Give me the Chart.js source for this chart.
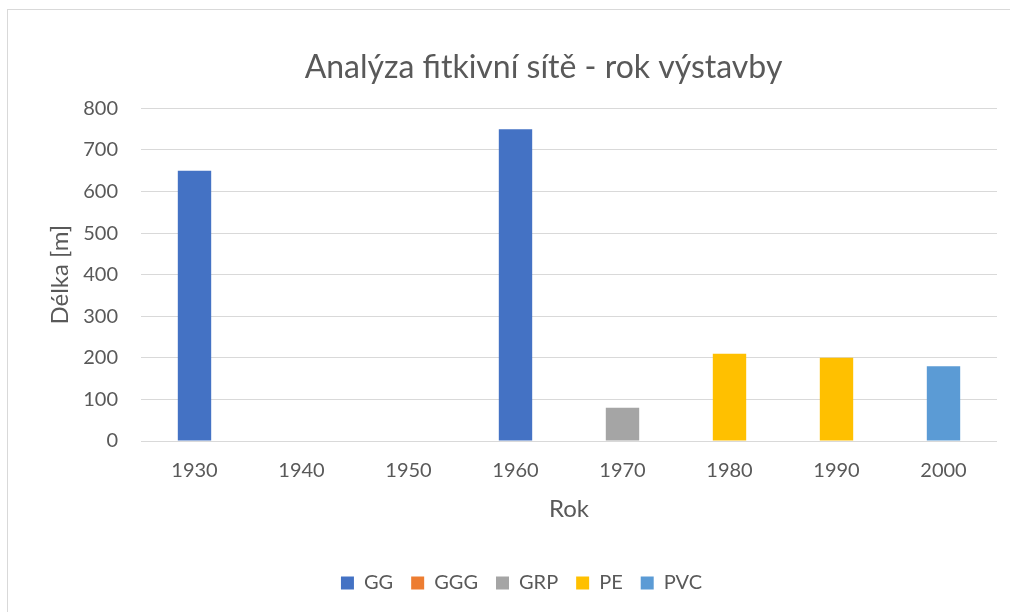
<!DOCTYPE html>
<html>
<head>
<meta charset="utf-8">
<script src="https://cdn.jsdelivr.net/npm/chart.js@4"></script>
<style>
  html, body { margin: 0; padding: 0; background: #fff; }
  #wrap { position: relative; width: 1010px; height: 612px; overflow: hidden; }
  #frame { position: absolute; left: 7px; top: 9px; width: 1100px; height: 700px;
           border: 1.5px solid #d9d9d9; box-sizing: border-box; }
  #myChart { position: absolute; left: 0; top: 0; }
</style>
</head>
<body>
<div id="wrap">
  <div id="frame"></div>
  <canvas id="myChart" width="1010" height="612"></canvas>
</div>
<script>
// years on the x axis
var years = ["1930", "1940", "1950", "1960", "1970", "1980", "1990", "2000"];

// pipe length [m] per material, null where nothing was built
var gg  = [650, null, null, 750, null, null, null, null];
var ggg = [null, null, null, null, null, null, null, null];
var grp = [null, null, null, null, 80, null, null, null];
var pe  = [null, null, null, null, null, 210, 200, null];
var pvc = [null, null, null, null, null, null, null, 180];

var yTicks = [0, 100, 200, 300, 400, 500, 600, 700, 800];

var grey = '#595959';
var fontName = 'Lato';

// Excel centres the title a bit further right than Chart.js does
var shiftTitle = {
  id: 'shiftTitle',
  afterLayout: function (chart) {
    chart.titleBlock.left += 22;
    chart.titleBlock.right += 22;
  }
};

var chartElement = document.getElementById("myChart").getContext('2d');

new Chart(chartElement, {
  type: 'bar',
  data: {
    labels: years,
    datasets: [
      { label: 'GG',  data: gg,  backgroundColor: '#4472c4' },
      { label: 'GGG', data: ggg, backgroundColor: '#ed7d31' },
      { label: 'GRP', data: grp, backgroundColor: '#a5a5a5' },
      { label: 'PE',  data: pe,  backgroundColor: '#ffc000' },
      { label: 'PVC', data: pvc, backgroundColor: '#5b9bd5' }
    ]
  },
  plugins: [shiftTitle],
  options: {
    responsive: false,
    animation: false,
    layout: { padding: { left: 46, right: 13, top: 0, bottom: 9 } },
    datasets: {
      bar: { categoryPercentage: 1, barPercentage: 0.312 }
    },
    plugins: {
      title: {
        display: true,
        text: 'Analýza fitkivní sítě - rok výstavby',
        color: grey,
        font: { family: fontName, size: 32, weight: 'normal' },
        padding: { top: 48, bottom: 22 }
      },
      legend: {
        position: 'bottom',
        labels: {
          color: grey,
          font: { family: fontName, size: 20 },
          boxWidth: 13,
          boxHeight: 13,
          padding: 18
        }
      },
      tooltip: { enabled: false }
    },
    scales: {
      x: {
        stacked: true,
        grid: { display: false },
        border: { display: false },
        ticks: { color: grey, font: { family: fontName, size: 20 }, padding: 10 },
        title: {
          display: true,
          text: 'Rok',
          color: grey,
          font: { family: fontName, size: 24, lineHeight: 1 },
          padding: { top: 4, bottom: 34 }
        }
      },
      y: {
        stacked: true,
        min: 0,
        max: 800,
        afterBuildTicks: function (scale) {
          scale.ticks = yTicks.map(function (v) { return { value: v }; });
        },
        afterFit: function (scale) { scale.width = 95; },
        grid: { color: '#d9d9d9', lineWidth: 1, drawTicks: false },
        border: { display: false },
        ticks: { color: grey, font: { family: fontName, size: 20 }, padding: 23 },
        title: {
          display: true,
          text: 'Délka [m]',
          color: grey,
          font: { family: fontName, size: 24 },
          padding: { top: 0, bottom: 0 }
        }
      }
    }
  }
});
</script>
</body>
</html>
